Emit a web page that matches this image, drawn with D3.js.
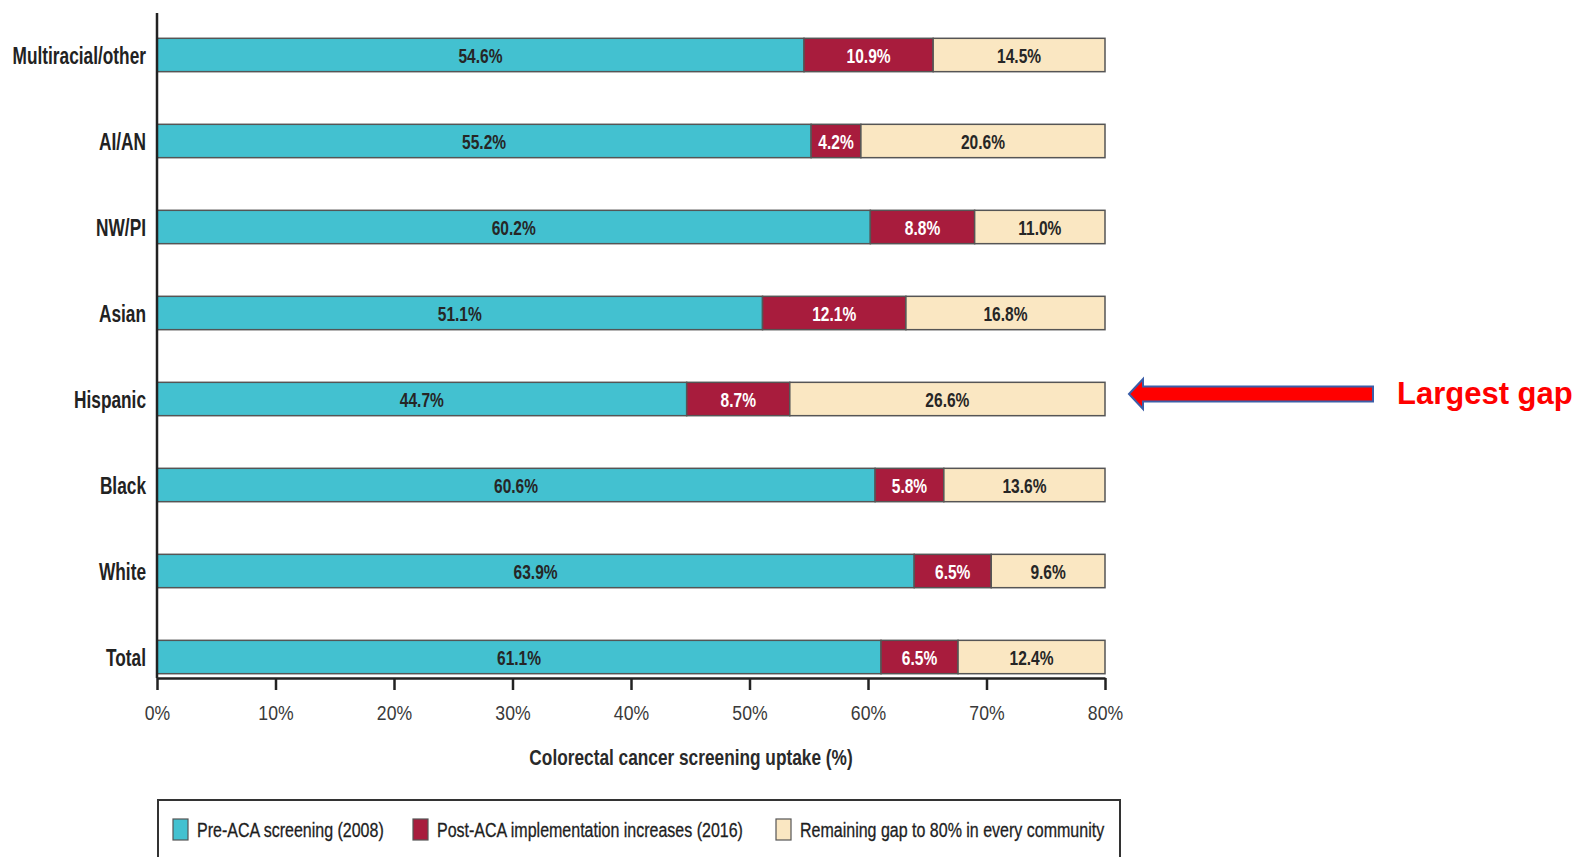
<!DOCTYPE html>
<html>
<head>
<meta charset="utf-8">
<script src="https://cdn.jsdelivr.net/npm/d3@7"></script>
<style>
  html, body { margin: 0; padding: 0; background: #fff; }
  svg { display: block; }
  text { font-family: "Liberation Sans", Arial, Helvetica, sans-serif; }
</style>
</head>
<body>
<svg id="chart" width="1576" height="857"></svg>
<script>
// Colorectal cancer screening uptake by community
const categories = ["Multiracial/other", "AI/AN", "NW/PI", "Asian", "Hispanic", "Black", "White", "Total"];
const preACA  = [54.6, 55.2, 60.2, 51.1, 44.7, 60.6, 63.9, 61.1];
const postACA = [10.9, 4.2, 8.8, 12.1, 8.7, 5.8, 6.5, 6.5];
const gapTo80 = [14.5, 20.6, 11.0, 16.8, 26.6, 13.6, 9.6, 12.4];
const seriesNames = ["Pre-ACA screening (2008)", "Post-ACA implementation increases (2016)", "Remaining gap to 80% in every community"];
const xTicks = [0, 10, 20, 30, 40, 50, 60, 70, 80];

const colors = ["#43c1d0", "#a81c3d", "#fae7c2"];
const labelColors = ["#262626", "#ffffff", "#262626"];

const svg = d3.select("#chart");
const plot = { left: 157, right: 1105, top: 13, axisY: 678 };

const x = d3.scaleLinear().domain([0, 80]).range([plot.left, plot.right]);
const y = d3.scaleBand().domain(categories).range([12.5, 699.5]).paddingInner(0.612).paddingOuter(0.3);

// condensed text helper (narrow grotesque look)
function condensed(sel, sx) {
  return sel.attr("transform", function () {
    const t = d3.select(this);
    return `translate(${t.attr("data-x")},${t.attr("data-y")}) scale(${sx},1)`;
  });
}

// stacked segments
const rows = categories.map((c, i) => ({ cat: c, vals: [preACA[i], postACA[i], gapTo80[i]] }));
const segs = [];
rows.forEach(r => {
  let acc = 0;
  r.vals.forEach((v, k) => { segs.push({ cat: r.cat, k, x0: acc, x1: acc + v, v }); acc += v; });
});

const barG = svg.append("g");
barG.selectAll("rect").data(segs).join("rect")
  .attr("x", d => x(d.x0))
  .attr("y", d => y(d.cat))
  .attr("width", d => x(d.x1) - x(d.x0))
  .attr("height", y.bandwidth())
  .attr("fill", d => colors[d.k])
  .attr("stroke", "#555")
  .attr("stroke-width", 1.5);

barG.selectAll("text").data(segs).join("text")
  .attr("data-x", d => (x(d.x0) + x(d.x1)) / 2)
  .attr("data-y", d => y(d.cat) + y.bandwidth() / 2)
  .attr("dy", "0.36em")
  .attr("text-anchor", "middle")
  .attr("font-size", 21)
  .attr("font-weight", "bold")
  .attr("fill", d => labelColors[d.k])
  .text(d => d.v.toFixed(1) + "%")
  .call(condensed, 0.74);

// category labels
svg.append("g").selectAll("text").data(categories).join("text")
  .attr("data-x", plot.left - 11)
  .attr("data-y", d => y(d) + y.bandwidth() / 2)
  .attr("dy", "0.36em")
  .attr("text-anchor", "end")
  .attr("font-size", 24)
  .attr("font-weight", "bold")
  .attr("fill", "#222")
  .text(d => d)
  .call(condensed, 0.72);

// x axis
const xAxis = svg.append("g").attr("transform", `translate(0,${plot.axisY})`)
  .call(d3.axisBottom(x).tickValues(xTicks).tickSize(12).tickPadding(15).tickSizeOuter(0).tickFormat(d => d + "%"));
xAxis.select(".domain").attr("stroke", "#222").attr("stroke-width", 2.5);
xAxis.selectAll(".tick line").attr("stroke", "#222").attr("stroke-width", 2.5);
xAxis.selectAll(".tick text")
  .attr("font-size", 20.5).attr("fill", "#3a3a3a")
  .style("font-family", "'Liberation Sans', Arial, sans-serif")
  .attr("transform", "scale(0.86,1)");

// y axis line
svg.append("line")
  .attr("x1", plot.left).attr("x2", plot.left)
  .attr("y1", plot.top).attr("y2", plot.axisY)
  .attr("stroke", "#222").attr("stroke-width", 2.5);

// x axis title
svg.append("text")
  .attr("data-x", 691).attr("data-y", 765)
  .attr("text-anchor", "middle")
  .attr("font-size", 22)
  .attr("font-weight", "bold")
  .attr("fill", "#2a2a2a")
  .text("Colorectal cancer screening uptake (%)")
  .call(condensed, 0.785);

// legend
svg.append("rect")
  .attr("x", 158).attr("y", 800).attr("width", 962).attr("height", 80)
  .attr("fill", "none").attr("stroke", "#333").attr("stroke-width", 2);
const legX = [173, 413, 776];
const leg = svg.append("g").selectAll("g").data(seriesNames).join("g")
  .attr("transform", (d, i) => `translate(${legX[i]},819)`);
leg.append("rect").attr("width", 15).attr("height", 21)
  .attr("fill", (d, i) => colors[i]).attr("stroke", "#555").attr("stroke-width", 1.2);
leg.append("text")
  .attr("data-x", 24).attr("data-y", 10.5)
  .attr("dy", "0.36em")
  .attr("font-size", 20).attr("fill", "#1e1e1e")
  .attr("stroke", "#1e1e1e").attr("stroke-width", 0.3)
  .text(d => d)
  .call(condensed, 0.8);

// callout arrow pointing at the Hispanic bar
const hy = y("Hispanic") + y.bandwidth() / 2 - 5;
const tipX = x(80) + 24, baseX = tipX + 14, tailX = 1373;
svg.append("path")
  .attr("d", `M${tipX},${hy} L${baseX},${hy - 15} L${baseX},${hy - 7.5} L${tailX},${hy - 7.5} L${tailX},${hy + 7.5} L${baseX},${hy + 7.5} L${baseX},${hy + 15} Z`)
  .attr("fill", "#ff0000").attr("stroke", "#3b5ea8").attr("stroke-width", 2);
svg.append("text")
  .attr("x", 1397).attr("y", hy + 10)
  .attr("font-size", 31).attr("font-weight", "bold").attr("fill", "#ff0000")
  .text("Largest gap");
</script>
</body>
</html>
